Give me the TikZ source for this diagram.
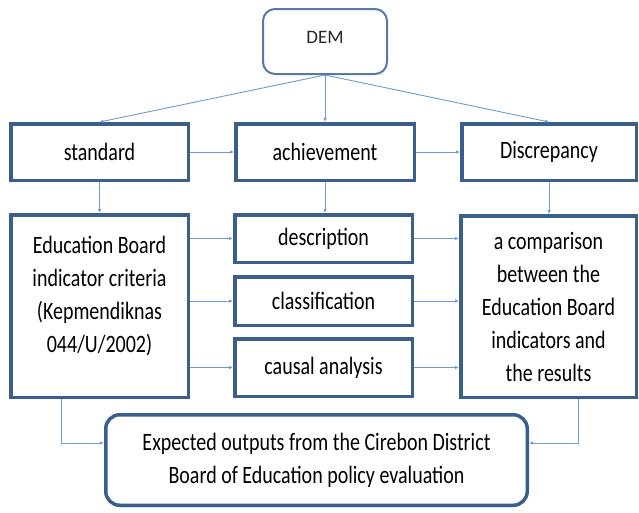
\documentclass[tikz,border=0pt]{standalone}
\usepackage{fontspec}
\setmainfont{Carlito}[FakeStretch=0.8]
\newfontfamily\demfont{Carlito}
\usetikzlibrary{arrows.meta,shadows}
\definecolor{boxblue}{HTML}{3B5F8C}
\definecolor{demblue}{HTML}{5878A6}
\definecolor{linkblue}{HTML}{6E9BD3}
\tikzset{
  box/.style={draw=boxblue, line width=3.5pt, fill=white, inner sep=0pt,
    font=\fontsize{25}{33}\selectfont, align=center,
    drop shadow={shadow xshift=1pt, shadow yshift=-2pt, opacity=0.3, fill=boxblue!60}},
  roundbox/.style={box, rounded corners=14pt},
  txt/.style={font=\fontsize{25}{33}\selectfont, align=center, inner sep=0pt},
  arr/.style={draw=linkblue, line width=0.9pt, -{Latex[length=4pt,width=3.5pt]}}
}
\begin{document}
\begin{tikzpicture}[x=1pt,y=-1pt]
\useasboundingbox (0,0) rectangle (639,512);
% top node
\node[draw=demblue, line width=2pt, rounded corners=12pt, minimum width=124pt,
  minimum height=65pt, inner sep=0pt] (dem) at (325,41.5) {};
\node[inner sep=0pt, font=\demfont\fontsize{19}{22}\selectfont, text=black!85]
  (demtxt) at (325,37) {DEM};
% first row
\node[box, minimum width=177.5pt, minimum height=56.5pt] (std) at (99.5,152) {standard};
\node[box, minimum width=178.5pt, minimum height=56.5pt] (ach) at (325,152) {achievement};
\node[box, minimum width=174.5pt, minimum height=56.5pt] (dis) at (549,152) {Discrepancy};
% second row
\node[box, minimum width=177.5pt, minimum height=182.5pt] (ed) at (99.5,306) {};
\node[txt] (edtxt) at (99.5,296) {Education Board\\indicator criteria\\(Kepmendiknas\\044/U/2002)};
\node[box, minimum width=177.5pt, minimum height=47.5pt] (desc) at (323.5,238.5) {description};
\node[box, minimum width=177.5pt, minimum height=48.5pt] (cls) at (323.5,301) {classification};
\node[box, minimum width=177.5pt, minimum height=57.5pt] (cau) at (323.5,367.5) {causal analysis};
\node[box, minimum width=175.5pt, minimum height=181.5pt] (cmp) at (548.5,306.5)
  {a comparison\\between the\\Education Board\\indicators and\\the results};
% output
\node[roundbox, minimum width=421.5pt, minimum height=90.5pt] (out) at (316.5,460)
  {Expected outputs from the Cirebon District\\Board of Education policy evaluation};
% connectors
\draw[arr] (dem.south) -- (std.north);
\draw[arr] (dem.south) -- (ach.north);
\draw[arr] (dem.south) -- (dis.north);
\draw[arr] (std.east) -- (ach.west);
\draw[arr] (ach.east) -- (dis.west);
\draw[arr] (std.south) -- (std.south |- ed.north);
\draw[arr] (ach.south) -- (ach.south |- desc.north);
\draw[arr] (dis.south) -- (dis.south |- cmp.north);
\draw[arr] (ed.east |- desc.west) -- (desc.west);
\draw[arr] (ed.east |- cls.west) -- (cls.west);
\draw[arr] (ed.east |- cau.west) -- (cau.west);
\draw[arr] (desc.east) -- (desc.east -| cmp.west);
\draw[arr] (cls.east) -- (cls.east -| cmp.west);
\draw[arr] (cau.east) -- (cau.east -| cmp.west);
\coordinate (edfoot) at ([xshift=52pt]ed.south west);
\coordinate (cmpfoot) at ([xshift=-60pt]cmp.south east);
\draw[arr] (edfoot) |- ([yshift=17pt]out.west);
\draw[arr] (cmpfoot) |- ([yshift=17pt]out.east);
\end{tikzpicture}
\end{document}
